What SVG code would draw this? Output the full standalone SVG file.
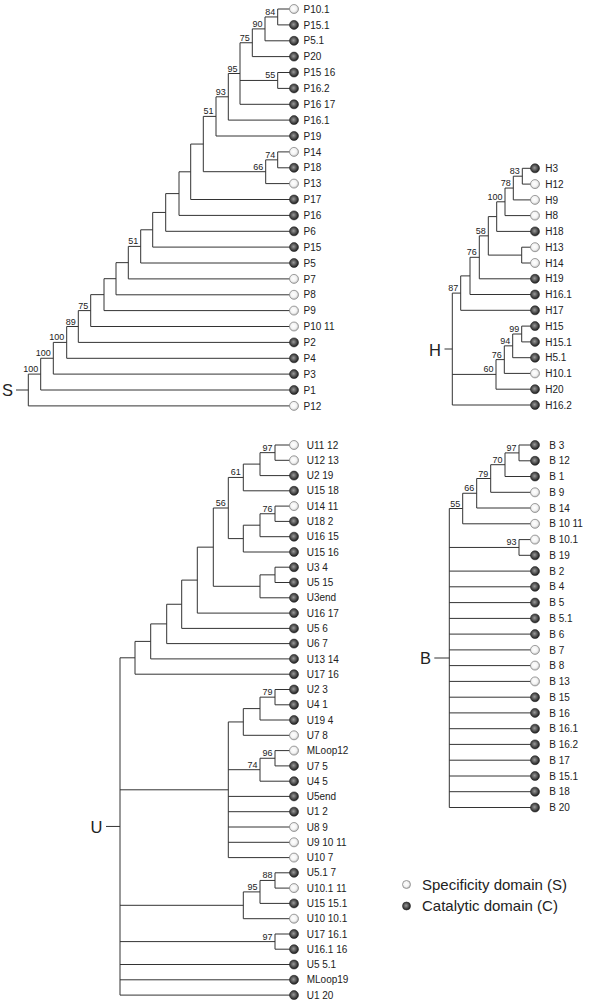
<svg xmlns="http://www.w3.org/2000/svg" width="600" height="1005" viewBox="0 0 600 1005">
<defs>
<radialGradient id="gd" cx="45%" cy="45%" r="55%"><stop offset="0" stop-color="#9a9a9a"/><stop offset="1" stop-color="#1c1c1c"/></radialGradient>
<radialGradient id="gl" cx="45%" cy="45%" r="55%"><stop offset="0" stop-color="#ffffff"/><stop offset="0.6" stop-color="#f3f3f3"/><stop offset="1" stop-color="#bcbcbc"/></radialGradient>
<style>
.d{fill:url(#gd);stroke:#2a2a2a;stroke-width:.6}
.l{fill:url(#gl);stroke:#8c8c8c;stroke-width:.8}
text{font-family:"Liberation Sans",Arial,sans-serif;fill:#222}
.t{font-size:10px}
.b{font-size:9px;text-anchor:end}
.big{font-size:16.5px}
.lg{font-size:15px}
.c{fill:none;stroke:#333;stroke-width:1}
</style>
</defs>
<rect width="600" height="1005" fill="#fff"/>
<g id="connectors" class="c">
<path d="M290,9 H277.7 V24.9 H290 M277.7,16.95 H265 V40.8 H290 M265,28.9 H252.3 V56.6 H290 M290,72.5 H277.7 V88.4 H290 M252.3,42.75 H240 V104.3 H290 M240,80.45 H277.7 M240,73.5 H228.3 V120.1 H290 M228.3,96.8 H216 V136 H290 M290,151.9 H277.7 V167.8 H290 M277.7,159.85 H265.7 V183.6 H290 M216,116.4 H203.3 V171.7 H265.7 M203.3,144.05 H190.7 V199.5 H290 M190.7,171.8 H179 V215.4 H290 M179,193.6 H165.7 V231.3 H290 M165.7,212.45 H152.7 V247.1 H290 M152.7,229.8 H140.7 V263 H290 M140.7,246.4 H128.3 V278.9 H290 M128.3,262.65 H116 V294.8 H290 M116,278.7 H104 V310.6 H290 M104,294.65 H90.7 V326.5 H290 M90.7,310.6 H78.3 V342.4 H290 M78.3,326.5 H66.7 V358.3 H290 M66.7,342.4 H53.3 V374.1 H290 M53.3,358.25 H40.7 V390 H290 M40.7,374.1 H28.3 V405.9 H290 M16,390 H28.3"/>
<path d="M531,168.3 H522.3 V184.1 H531 M522.3,176.2 H513.3 V199.9 H531 M513.3,188.05 H505 V215.6 H531 M505,201.8 H496.7 V231.4 H531 M531,247.2 H521.7 V263 H531 M496.7,216.6 H488.3 V255.1 H521.7 M488.3,235.85 H479.3 V278.8 H531 M479.3,257.3 H470 V294.5 H531 M470,275.9 H460.7 V310.3 H531 M531,326.1 H521.7 V341.9 H531 M521.7,334 H512.7 V357.7 H531 M512.7,345.85 H504.3 V373.4 H531 M504.3,359.6 H496 V389.2 H531 M460.7,293.1 H452.3 V405 H531 M452.3,374.4 H496 M444.5,349 H452.3"/>
<path d="M290,445 H275 V460.3 H290 M275,452.65 H260 V475.6 H290 M260,464.1 H243.3 V490.8 H290 M290,506.1 H275 V521.4 H290 M275,513.75 H260 V536.7 H290 M260,525.2 H243.3 V552 H290 M243.3,477.45 H228.3 V538.6 H243.3 M290,567.2 H275 V582.5 H290 M275,574.85 H260 V597.8 H290 M228.3,508 H213.3 V586.3 H260 M213.3,547.15 H197.3 V613.1 H290 M197.3,580.1 H181.7 V628.4 H290 M181.7,604.25 H166.7 V643.6 H290 M166.7,623.9 H150.7 V658.9 H290 M150.7,641.4 H135 V674.2 H290 M290,689.5 H275 V704.8 H290 M275,697.15 H260 V720 H290 M260,708.6 H243.3 V735.3 H290 M290,750.6 H275 V765.9 H290 M275,758.25 H260 V781.2 H290 M243.3,721.95 H228.3 V857.6 H290 M260,769.7 H228.3 M228.3,796.4 H290 M228.3,811.7 H290 M228.3,827 H290 M228.3,842.3 H290 M290,872.8 H275 V888.1 H290 M275,880.45 H260 V903.4 H290 M260,891.9 H243.3 V918.7 H290 M290,934 H275 V949.2 H290 M135,657.8 H120 V995.1 H290 M120,789.8 H228.3 M120,905.3 H243.3 M120,941.6 H275 M120,964.5 H290 M120,979.8 H290 M106,826.45 H120"/>
<path d="M531,445 H519 V460.8 H531 M519,452.9 H505 V476.5 H531 M505,464.7 H490.7 V492.3 H531 M490.7,478.5 H476.7 V508 H531 M476.7,493.25 H462.7 V523.8 H531 M531,539.6 H519 V555.3 H531 M462.7,508.5 H449.3 V807.5 H531 M449.3,547.45 H519 M449.3,571.1 H531 M449.3,586.8 H531 M449.3,602.6 H531 M449.3,618.4 H531 M449.3,634.1 H531 M449.3,649.9 H531 M449.3,665.6 H531 M449.3,681.4 H531 M449.3,697.2 H531 M449.3,712.9 H531 M449.3,728.7 H531 M449.3,744.4 H531 M449.3,760.2 H531 M449.3,776 H531 M449.3,791.7 H531 M434.3,658 H449.3"/>
</g>
<g id="bootstrap" class="b">
<text x="275.2" y="15">84</text><text x="262.5" y="26.9">90</text><text x="249.8" y="40.7">75</text><text x="275.2" y="78.4">55</text><text x="237.5" y="71.5">95</text><text x="225.8" y="94.8">93</text><text x="213.5" y="114.4">51</text><text x="275.2" y="157.8">74</text><text x="263.2" y="169.7">66</text><text x="138.2" y="244.4">51</text><text x="88.2" y="308.6">75</text><text x="75.8" y="324.5">89</text><text x="64.2" y="340.4">100</text><text x="50.8" y="356.2">100</text><text x="38.2" y="372.1">100</text>
<text x="519.8" y="174.2">83</text><text x="510.8" y="186">78</text><text x="502.5" y="199.8">100</text><text x="485.8" y="233.8">58</text><text x="476.8" y="255.3">76</text><text x="458.2" y="291.1">87</text><text x="519.2" y="332">99</text><text x="510.2" y="343.8">94</text><text x="501.8" y="357.6">76</text><text x="493.5" y="372.4">60</text>
<text x="272.5" y="450.6">97</text><text x="240.8" y="475.4">61</text><text x="272.5" y="511.7">76</text><text x="225.8" y="506">56</text><text x="272.5" y="695.1">79</text><text x="272.5" y="756.2">96</text><text x="257.5" y="767.7">74</text><text x="272.5" y="878.4">88</text><text x="257.5" y="889.9">95</text><text x="272.5" y="939.6">97</text>
<text x="516.5" y="450.9">97</text><text x="502.5" y="462.7">70</text><text x="488.2" y="476.5">79</text><text x="474.2" y="491.2">66</text><text x="460.2" y="506.5">55</text><text x="516.5" y="545.4">93</text>
</g>
<g id="roots" class="big">
<text x="2" y="396">S</text><text x="429" y="355.5">H</text><text x="90.5" y="832.5">U</text><text x="420" y="664">B</text>
</g>
<g id="S-leaves" class="t">
<g id="s1" transform="translate(294,9)"><circle class="l" r="4.5"/><text x="9.5" y="3.6">P10.1</text></g>
<g id="s2" transform="translate(294,24.9)"><circle class="d" r="4.5"/><text x="9.5" y="3.6">P15.1</text></g>
<g id="s3" transform="translate(294,40.8)"><circle class="d" r="4.5"/><text x="9.5" y="3.6">P5.1</text></g>
<g id="s4" transform="translate(294,56.6)"><circle class="d" r="4.5"/><text x="9.5" y="3.6">P20</text></g>
<g id="s5" transform="translate(294,72.5)"><circle class="d" r="4.5"/><text x="9.5" y="3.6">P15 16</text></g>
<g id="s6" transform="translate(294,88.4)"><circle class="d" r="4.5"/><text x="9.5" y="3.6">P16.2</text></g>
<g id="s7" transform="translate(294,104.3)"><circle class="d" r="4.5"/><text x="9.5" y="3.6">P16 17</text></g>
<g id="s8" transform="translate(294,120.1)"><circle class="d" r="4.5"/><text x="9.5" y="3.6">P16.1</text></g>
<g id="s9" transform="translate(294,136)"><circle class="d" r="4.5"/><text x="9.5" y="3.6">P19</text></g>
<g id="s10" transform="translate(294,151.9)"><circle class="l" r="4.5"/><text x="9.5" y="3.6">P14</text></g>
<g id="s11" transform="translate(294,167.8)"><circle class="d" r="4.5"/><text x="9.5" y="3.6">P18</text></g>
<g id="s12" transform="translate(294,183.6)"><circle class="l" r="4.5"/><text x="9.5" y="3.6">P13</text></g>
<g id="s13" transform="translate(294,199.5)"><circle class="d" r="4.5"/><text x="9.5" y="3.6">P17</text></g>
<g id="s14" transform="translate(294,215.4)"><circle class="d" r="4.5"/><text x="9.5" y="3.6">P16</text></g>
<g id="s15" transform="translate(294,231.3)"><circle class="d" r="4.5"/><text x="9.5" y="3.6">P6</text></g>
<g id="s16" transform="translate(294,247.1)"><circle class="d" r="4.5"/><text x="9.5" y="3.6">P15</text></g>
<g id="s17" transform="translate(294,263)"><circle class="d" r="4.5"/><text x="9.5" y="3.6">P5</text></g>
<g id="s18" transform="translate(294,278.9)"><circle class="l" r="4.5"/><text x="9.5" y="3.6">P7</text></g>
<g id="s19" transform="translate(294,294.8)"><circle class="l" r="4.5"/><text x="9.5" y="3.6">P8</text></g>
<g id="s20" transform="translate(294,310.6)"><circle class="l" r="4.5"/><text x="9.5" y="3.6">P9</text></g>
<g id="s21" transform="translate(294,326.5)"><circle class="l" r="4.5"/><text x="9.5" y="3.6">P10 11</text></g>
<g id="s22" transform="translate(294,342.4)"><circle class="d" r="4.5"/><text x="9.5" y="3.6">P2</text></g>
<g id="s23" transform="translate(294,358.3)"><circle class="d" r="4.5"/><text x="9.5" y="3.6">P4</text></g>
<g id="s24" transform="translate(294,374.1)"><circle class="d" r="4.5"/><text x="9.5" y="3.6">P3</text></g>
<g id="s25" transform="translate(294,390)"><circle class="d" r="4.5"/><text x="9.5" y="3.6">P1</text></g>
<g id="s26" transform="translate(294,405.9)"><circle class="l" r="4.5"/><text x="9.5" y="3.6">P12</text></g>
</g>
<g id="H-leaves" class="t">
<g id="h1" transform="translate(535,168.3)"><circle class="d" r="4.5"/><text x="10.2" y="3.6">H3</text></g>
<g id="h2" transform="translate(535,184.1)"><circle class="l" r="4.5"/><text x="10.2" y="3.6">H12</text></g>
<g id="h3" transform="translate(535,199.9)"><circle class="l" r="4.5"/><text x="10.2" y="3.6">H9</text></g>
<g id="h4" transform="translate(535,215.6)"><circle class="l" r="4.5"/><text x="10.2" y="3.6">H8</text></g>
<g id="h5" transform="translate(535,231.4)"><circle class="d" r="4.5"/><text x="10.2" y="3.6">H18</text></g>
<g id="h6" transform="translate(535,247.2)"><circle class="l" r="4.5"/><text x="10.2" y="3.6">H13</text></g>
<g id="h7" transform="translate(535,263)"><circle class="l" r="4.5"/><text x="10.2" y="3.6">H14</text></g>
<g id="h8" transform="translate(535,278.8)"><circle class="d" r="4.5"/><text x="10.2" y="3.6">H19</text></g>
<g id="h9" transform="translate(535,294.5)"><circle class="d" r="4.5"/><text x="10.2" y="3.6">H16.1</text></g>
<g id="h10" transform="translate(535,310.3)"><circle class="d" r="4.5"/><text x="10.2" y="3.6">H17</text></g>
<g id="h11" transform="translate(535,326.1)"><circle class="d" r="4.5"/><text x="10.2" y="3.6">H15</text></g>
<g id="h12" transform="translate(535,341.9)"><circle class="d" r="4.5"/><text x="10.2" y="3.6">H15.1</text></g>
<g id="h13" transform="translate(535,357.7)"><circle class="d" r="4.5"/><text x="10.2" y="3.6">H5.1</text></g>
<g id="h14" transform="translate(535,373.4)"><circle class="l" r="4.5"/><text x="10.2" y="3.6">H10.1</text></g>
<g id="h15" transform="translate(535,389.2)"><circle class="d" r="4.5"/><text x="10.2" y="3.6">H20</text></g>
<g id="h16" transform="translate(535,405)"><circle class="d" r="4.5"/><text x="10.2" y="3.6">H16.2</text></g>
</g>
<g id="U-leaves" class="t">
<g id="u1" transform="translate(294,445)"><circle class="l" r="4.5"/><text x="12.7" y="3.6">U11 12</text></g>
<g id="u2" transform="translate(294,460.3)"><circle class="l" r="4.5"/><text x="12.7" y="3.6">U12 13</text></g>
<g id="u3" transform="translate(294,475.6)"><circle class="d" r="4.5"/><text x="12.7" y="3.6">U2 19</text></g>
<g id="u4" transform="translate(294,490.8)"><circle class="d" r="4.5"/><text x="12.7" y="3.6">U15 18</text></g>
<g id="u5" transform="translate(294,506.1)"><circle class="l" r="4.5"/><text x="12.7" y="3.6">U14 11</text></g>
<g id="u6" transform="translate(294,521.4)"><circle class="d" r="4.5"/><text x="12.7" y="3.6">U18 2</text></g>
<g id="u7" transform="translate(294,536.7)"><circle class="d" r="4.5"/><text x="12.7" y="3.6">U16 15</text></g>
<g id="u8" transform="translate(294,552)"><circle class="d" r="4.5"/><text x="12.7" y="3.6">U15 16</text></g>
<g id="u9" transform="translate(294,567.2)"><circle class="d" r="4.5"/><text x="12.7" y="3.6">U3 4</text></g>
<g id="u10" transform="translate(294,582.5)"><circle class="d" r="4.5"/><text x="12.7" y="3.6">U5 15</text></g>
<g id="u11" transform="translate(294,597.8)"><circle class="d" r="4.5"/><text x="12.7" y="3.6">U3end</text></g>
<g id="u12" transform="translate(294,613.1)"><circle class="d" r="4.5"/><text x="12.7" y="3.6">U16 17</text></g>
<g id="u13" transform="translate(294,628.4)"><circle class="d" r="4.5"/><text x="12.7" y="3.6">U5 6</text></g>
<g id="u14" transform="translate(294,643.6)"><circle class="d" r="4.5"/><text x="12.7" y="3.6">U6 7</text></g>
<g id="u15" transform="translate(294,658.9)"><circle class="d" r="4.5"/><text x="12.7" y="3.6">U13 14</text></g>
<g id="u16" transform="translate(294,674.2)"><circle class="d" r="4.5"/><text x="12.7" y="3.6">U17 16</text></g>
<g id="u17" transform="translate(294,689.5)"><circle class="d" r="4.5"/><text x="12.7" y="3.6">U2 3</text></g>
<g id="u18" transform="translate(294,704.8)"><circle class="d" r="4.5"/><text x="12.7" y="3.6">U4 1</text></g>
<g id="u19" transform="translate(294,720)"><circle class="d" r="4.5"/><text x="12.7" y="3.6">U19 4</text></g>
<g id="u20" transform="translate(294,735.3)"><circle class="l" r="4.5"/><text x="12.7" y="3.6">U7 8</text></g>
<g id="u21" transform="translate(294,750.6)"><circle class="l" r="4.5"/><text x="12.7" y="3.6">MLoop12</text></g>
<g id="u22" transform="translate(294,765.9)"><circle class="d" r="4.5"/><text x="12.7" y="3.6">U7 5</text></g>
<g id="u23" transform="translate(294,781.2)"><circle class="d" r="4.5"/><text x="12.7" y="3.6">U4 5</text></g>
<g id="u24" transform="translate(294,796.4)"><circle class="d" r="4.5"/><text x="12.7" y="3.6">U5end</text></g>
<g id="u25" transform="translate(294,811.7)"><circle class="d" r="4.5"/><text x="12.7" y="3.6">U1 2</text></g>
<g id="u26" transform="translate(294,827)"><circle class="l" r="4.5"/><text x="12.7" y="3.6">U8 9</text></g>
<g id="u27" transform="translate(294,842.3)"><circle class="l" r="4.5"/><text x="12.7" y="3.6">U9 10 11</text></g>
<g id="u28" transform="translate(294,857.6)"><circle class="l" r="4.5"/><text x="12.7" y="3.6">U10 7</text></g>
<g id="u29" transform="translate(294,872.8)"><circle class="d" r="4.5"/><text x="12.7" y="3.6">U5.1 7</text></g>
<g id="u30" transform="translate(294,888.1)"><circle class="l" r="4.5"/><text x="12.7" y="3.6">U10.1 11</text></g>
<g id="u31" transform="translate(294,903.4)"><circle class="d" r="4.5"/><text x="12.7" y="3.6">U15 15.1</text></g>
<g id="u32" transform="translate(294,918.7)"><circle class="l" r="4.5"/><text x="12.7" y="3.6">U10 10.1</text></g>
<g id="u33" transform="translate(294,934)"><circle class="d" r="4.5"/><text x="12.7" y="3.6">U17 16.1</text></g>
<g id="u34" transform="translate(294,949.2)"><circle class="d" r="4.5"/><text x="12.7" y="3.6">U16.1 16</text></g>
<g id="u35" transform="translate(294,964.5)"><circle class="d" r="4.5"/><text x="12.7" y="3.6">U5 5.1</text></g>
<g id="u36" transform="translate(294,979.8)"><circle class="d" r="4.5"/><text x="12.7" y="3.6">MLoop19</text></g>
<g id="u37" transform="translate(294,995.1)"><circle class="d" r="4.5"/><text x="12.7" y="3.6">U1 20</text></g>
</g>
<g id="B-leaves" class="t">
<g id="b1" transform="translate(535,445)"><circle class="d" r="4.5"/><text x="14.2" y="3.6">B 3</text></g>
<g id="b2" transform="translate(535,460.8)"><circle class="d" r="4.5"/><text x="14.2" y="3.6">B 12</text></g>
<g id="b3" transform="translate(535,476.5)"><circle class="d" r="4.5"/><text x="14.2" y="3.6">B 1</text></g>
<g id="b4" transform="translate(535,492.3)"><circle class="l" r="4.5"/><text x="14.2" y="3.6">B 9</text></g>
<g id="b5" transform="translate(535,508)"><circle class="l" r="4.5"/><text x="14.2" y="3.6">B 14</text></g>
<g id="b6" transform="translate(535,523.8)"><circle class="l" r="4.5"/><text x="14.2" y="3.6">B 10 11</text></g>
<g id="b7" transform="translate(535,539.6)"><circle class="l" r="4.5"/><text x="14.2" y="3.6">B 10.1</text></g>
<g id="b8" transform="translate(535,555.3)"><circle class="d" r="4.5"/><text x="14.2" y="3.6">B 19</text></g>
<g id="b9" transform="translate(535,571.1)"><circle class="d" r="4.5"/><text x="14.2" y="3.6">B 2</text></g>
<g id="b10" transform="translate(535,586.8)"><circle class="d" r="4.5"/><text x="14.2" y="3.6">B 4</text></g>
<g id="b11" transform="translate(535,602.6)"><circle class="d" r="4.5"/><text x="14.2" y="3.6">B 5</text></g>
<g id="b12" transform="translate(535,618.4)"><circle class="d" r="4.5"/><text x="14.2" y="3.6">B 5.1</text></g>
<g id="b13" transform="translate(535,634.1)"><circle class="d" r="4.5"/><text x="14.2" y="3.6">B 6</text></g>
<g id="b14" transform="translate(535,649.9)"><circle class="l" r="4.5"/><text x="14.2" y="3.6">B 7</text></g>
<g id="b15" transform="translate(535,665.6)"><circle class="l" r="4.5"/><text x="14.2" y="3.6">B 8</text></g>
<g id="b16" transform="translate(535,681.4)"><circle class="l" r="4.5"/><text x="14.2" y="3.6">B 13</text></g>
<g id="b17" transform="translate(535,697.2)"><circle class="d" r="4.5"/><text x="14.2" y="3.6">B 15</text></g>
<g id="b18" transform="translate(535,712.9)"><circle class="d" r="4.5"/><text x="14.2" y="3.6">B 16</text></g>
<g id="b19" transform="translate(535,728.7)"><circle class="d" r="4.5"/><text x="14.2" y="3.6">B 16.1</text></g>
<g id="b20" transform="translate(535,744.4)"><circle class="d" r="4.5"/><text x="14.2" y="3.6">B 16.2</text></g>
<g id="b21" transform="translate(535,760.2)"><circle class="d" r="4.5"/><text x="14.2" y="3.6">B 17</text></g>
<g id="b22" transform="translate(535,776)"><circle class="d" r="4.5"/><text x="14.2" y="3.6">B 15.1</text></g>
<g id="b23" transform="translate(535,791.7)"><circle class="d" r="4.5"/><text x="14.2" y="3.6">B 18</text></g>
<g id="b24" transform="translate(535,807.5)"><circle class="d" r="4.5"/><text x="14.2" y="3.6">B 20</text></g>
</g>
<g id="legend" class="lg">
<g id="leg-s" transform="translate(406.5,884.5)"><circle class="l" r="4"/><text x="15.5" y="5.3">Specificity domain (S)</text></g>
<g id="leg-c" transform="translate(406.5,906)"><circle class="d" r="4"/><text x="15.5" y="5.3">Catalytic domain (C)</text></g>
</g>
</svg>
